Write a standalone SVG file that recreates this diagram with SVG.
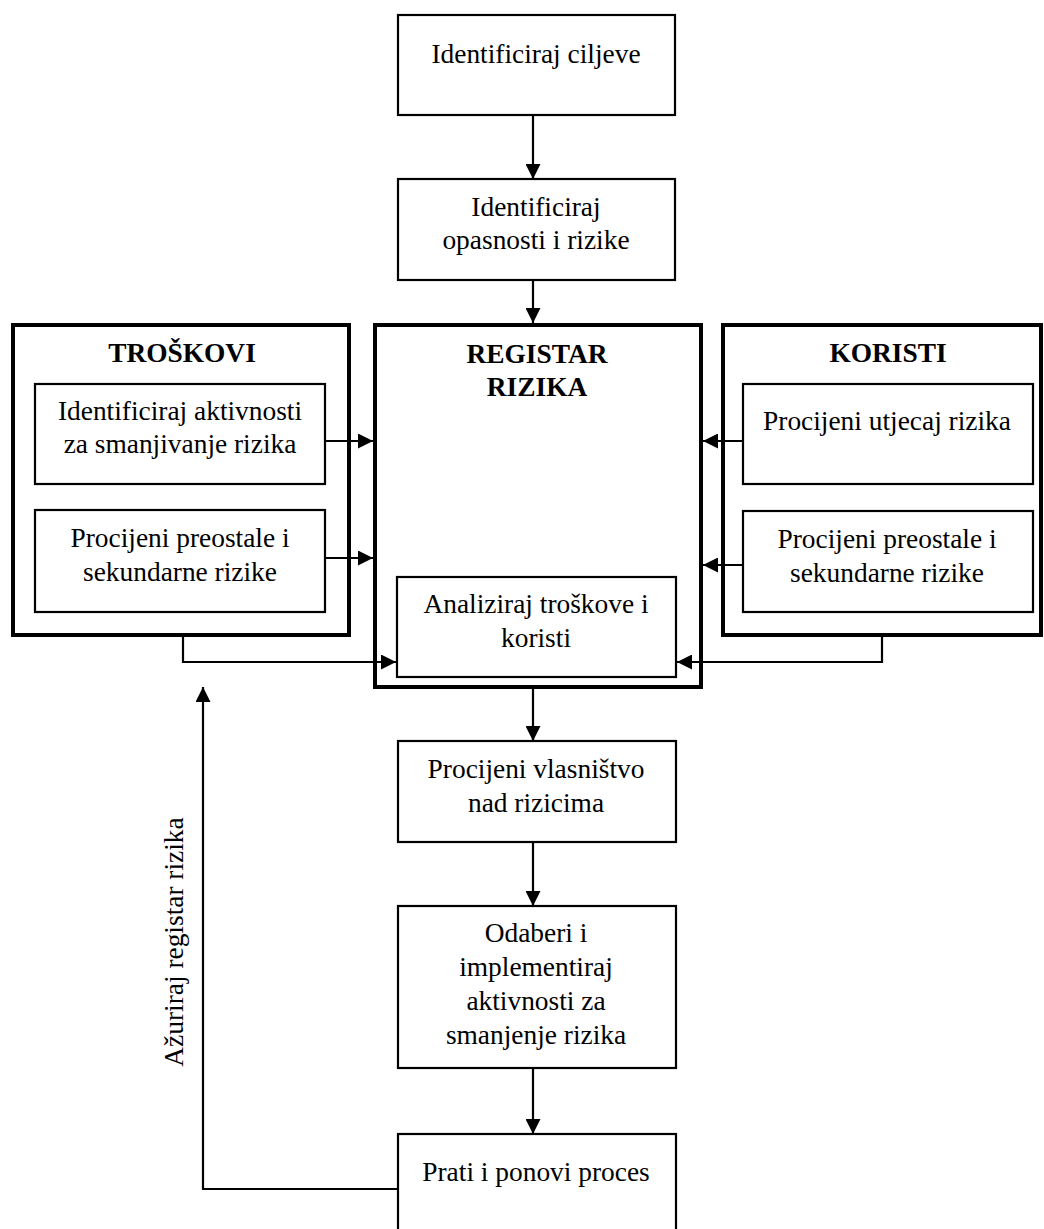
<svg xmlns="http://www.w3.org/2000/svg" width="1044" height="1229" viewBox="0 0 1044 1229">
<style>
  .box { fill: #fff; stroke: #000; stroke-width: 2.2; }
  .cont { fill: #fff; stroke: #000; stroke-width: 4; }
  .t { font-family: "Liberation Serif", "Times New Roman", serif; font-size: 27.4px; fill: #000; text-anchor: middle; }
  .b { font-weight: bold; }
  .c { fill: none; stroke: #000; stroke-width: 2.2; }
</style>
<defs>
  <marker id="ah" viewBox="0 0 10 10" refX="10" refY="5" markerUnits="userSpaceOnUse" markerWidth="15" markerHeight="15" preserveAspectRatio="none" orient="auto">
    <path d="M0,0 L10,5 L0,10 z" fill="#000"/>
  </marker>
</defs>

<g id="n-ciljevi">
  <rect class="box" x="398" y="15" width="277" height="100"/>
  <text class="t" x="536" y="63">Identificiraj ciljeve</text>
</g>
<g id="n-opasnosti">
  <rect class="box" x="398" y="179" width="277" height="101"/>
  <text class="t" x="536" y="216">Identificiraj</text>
  <text class="t" x="536" y="249">opasnosti i rizike</text>
</g>

<g id="n-troskovi">
  <rect class="cont" x="13" y="325" width="336" height="310"/>
  <text class="t b" x="182" y="362">TROŠKOVI</text>
</g>
<g id="n-aktivnosti">
  <rect class="box" x="35" y="384" width="290" height="100"/>
  <text class="t" x="180" y="420">Identificiraj aktivnosti</text>
  <text class="t" x="180" y="453">za smanjivanje rizika</text>
</g>
<g id="n-preostale-l">
  <rect class="box" x="35" y="510" width="290" height="102"/>
  <text class="t" x="180" y="547">Procijeni preostale i</text>
  <text class="t" x="180" y="581">sekundarne rizike</text>
</g>

<g id="n-registar">
  <rect class="cont" x="375" y="325" width="326" height="362"/>
  <text class="t b" x="537" y="363">REGISTAR</text>
  <text class="t b" x="537" y="396">RIZIKA</text>
</g>
<g id="n-analiziraj">
  <rect class="box" x="397" y="577" width="279" height="100"/>
  <text class="t" x="536" y="613">Analiziraj troškove i</text>
  <text class="t" x="536" y="647">koristi</text>
</g>

<g id="n-koristi">
  <rect class="cont" x="723" y="325" width="318" height="310"/>
  <text class="t b" x="888" y="362">KORISTI</text>
</g>
<g id="n-utjecaj">
  <rect class="box" x="743" y="384" width="290" height="100"/>
  <text class="t" x="887" y="430">Procijeni utjecaj rizika</text>
</g>
<g id="n-preostale-r">
  <rect class="box" x="743" y="511" width="290" height="101"/>
  <text class="t" x="887" y="548">Procijeni preostale i</text>
  <text class="t" x="887" y="582">sekundarne rizike</text>
</g>

<g id="n-vlasnistvo">
  <rect class="box" x="398" y="741" width="278" height="101"/>
  <text class="t" x="536" y="778">Procijeni vlasništvo</text>
  <text class="t" x="536" y="812">nad rizicima</text>
</g>
<g id="n-odaberi">
  <rect class="box" x="398" y="906" width="278" height="162"/>
  <text class="t" x="536" y="942">Odaberi i</text>
  <text class="t" x="536" y="976">implementiraj</text>
  <text class="t" x="536" y="1010">aktivnosti za</text>
  <text class="t" x="536" y="1044">smanjenje rizika</text>
</g>
<g id="n-prati">
  <rect class="box" x="398" y="1134" width="278" height="120"/>
  <text class="t" x="536" y="1181">Prati i ponovi proces</text>
</g>

<g id="connectors">
  <line class="c" x1="533" y1="115" x2="533" y2="179" marker-end="url(#ah)"/>
  <line class="c" x1="533" y1="280" x2="533" y2="323" marker-end="url(#ah)"/>
  <line class="c" x1="325" y1="441" x2="373" y2="441" marker-end="url(#ah)"/>
  <line class="c" x1="325" y1="558" x2="373" y2="558" marker-end="url(#ah)"/>
  <line class="c" x1="743" y1="441" x2="703" y2="441" marker-end="url(#ah)"/>
  <line class="c" x1="743" y1="565" x2="703" y2="565" marker-end="url(#ah)"/>
  <polyline class="c" points="183,635 183,662 396,662" marker-end="url(#ah)"/>
  <polyline class="c" points="882,635 882,662 677,662" marker-end="url(#ah)"/>
  <line class="c" x1="533" y1="687" x2="533" y2="741" marker-end="url(#ah)"/>
  <line class="c" x1="533" y1="842" x2="533" y2="906" marker-end="url(#ah)"/>
  <line class="c" x1="533" y1="1068" x2="533" y2="1134" marker-end="url(#ah)"/>
  <polyline class="c" points="398,1189 203,1189 203,687" marker-end="url(#ah)"/>
  <text class="t" transform="translate(183,942) rotate(-90)" x="0" y="0">Ažuriraj registar rizika</text>
</g>
</svg>
